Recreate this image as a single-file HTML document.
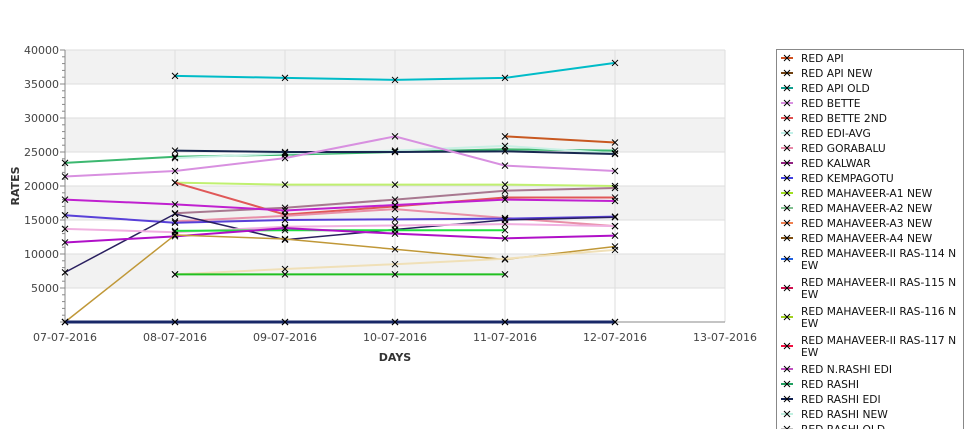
<!DOCTYPE html>
<html><head><meta charset="utf-8"><style>
body{margin:0;width:975px;height:429px;overflow:hidden;background:#fff;font-family:"DejaVu Sans","Liberation Sans",sans-serif;}
svg text{font-family:"DejaVu Sans","Liberation Sans",sans-serif;}
</style></head><body>
<svg id="chart" width="975" height="429" xmlns="http://www.w3.org/2000/svg"></svg>
<script>
const categories=["07-07-2016","08-07-2016","09-07-2016","10-07-2016","11-07-2016","12-07-2016","13-07-2016"];
const yTicks=[5000,10000,15000,20000,25000,30000,35000,40000];
const seriesNames=["RED API","RED API NEW","RED API OLD","RED BETTE","RED BETTE 2ND","RED EDI-AVG","RED GORABALU","RED KALWAR","RED KEMPAGOTU","RED MAHAVEER-A1 NEW","RED MAHAVEER-A2 NEW","RED MAHAVEER-A3 NEW","RED MAHAVEER-A4 NEW","RED MAHAVEER-II RAS-114 NEW","RED MAHAVEER-II RAS-115 NEW","RED MAHAVEER-II RAS-116 NEW","RED MAHAVEER-II RAS-117 NEW","RED N.RASHI EDI","RED RASHI","RED RASHI EDI","RED RASHI NEW","RED RASHI OLD"];
const legendColors=["#d05020","#704010","#10a090","#d890e0","#e05050","#c0f0e8","#e888a8","#902080","#4040e0","#a0e020","#80c090","#f08050","#805010","#2060e0","#d01050","#a0d020","#f01040","#c050c0","#20a060","#102050","#c0f0e0","#c0c0c0"];
const s_cyan=[null,36200,35900,35600,35900,38100];
const s_api=[null,null,null,null,27300,26400];
const s_rashi=[23400,24300,24600,25000,25400,25200];
const s_rashiNew=[null,24100,24800,25200,25900,24800];
const s_rashiEdi=[null,25200,25000,25000,25100,24700];
const s_bette=[21400,22200,24100,27300,23000,22200];
const s_a1=[null,20500,20200,20200,20200,20000];
const s_bette2=[null,20500,15800,17000,18300,18300];
const s_kalwar=[null,16000,16800,18000,19300,19700];
const s_magenta=[18000,17300,16400,17200,18000,17800];
const s_gorabalu=[null,14800,15600,16600,15300,14100];
const s_kempagotu=[15700,14600,15000,15100,15200,15500];
const s_darkPurple=[7300,15900,12100,13600,15000,15400];
const s_lightPink=[13700,13200,14000,14200,14400,14100];
const s_brightGreen=[null,13400,13500,13500,13500,null];
const s_purple=[11700,12600,13800,13000,12300,12700];
const s_gold=[0,12800,12200,10700,9200,11100];
const s_beige=[null,7000,7800,8500,9300,10600];
const s_green=[null,7000,7000,7000,7000,null];
const s_zeroRed=[0,0,0,0,0,0];
const s_zeroNavy=[0,0,0,0,0,0];
const plotSeries=[
 ["cyan",s_cyan,"#00bcc8",2],["api",s_api,"#c85820",2],["rashi",s_rashi,"#3cb870",2],["rashi-new",s_rashiNew,"#c8f0e4",2],
 ["rashi-edi",s_rashiEdi,"#182850",2],["bette",s_bette,"#d890e0",2],["a1",s_a1,"#c0f070",2],["bette-2nd",s_bette2,"#e05858",2],
 ["kalwar",s_kalwar,"#a87890",2],["magenta",s_magenta,"#c020d0",2],["gorabalu",s_gorabalu,"#e890a8",2],["kempagotu",s_kempagotu,"#5840d8",2],
 ["dark-purple",s_darkPurple,"#2a2060",1.5],["light-pink",s_lightPink,"#f0b0e0",2],["bright-green",s_brightGreen,"#20e040",2],
 ["purple",s_purple,"#b010c8",2],["gold",s_gold,"#c09838",1.5],["beige",s_beige,"#f0e0b8",2],["green",s_green,"#20c020",2],
 ["zero-red",s_zeroRed,"#e02050",2],["zero-navy",s_zeroNavy,"#182868",3]
];
const NS="http://www.w3.org/2000/svg";
const svg=document.getElementById("chart");
const X0=65,DX=110,Y0=322,YTOP=50,YMAX=40000;
function xs(i){return X0+i*DX;}
function ys(v){return Y0-(v/YMAX)*(Y0-YTOP);}
function mk(tag,attrs,parent){const e=document.createElementNS(NS,tag);for(const k in attrs)e.setAttribute(k,attrs[k]);(parent||svg).appendChild(e);return e;}
for(let k=0;k<4;k++){
 const b=mk("rect",{x:X0,y:ys(40000-k*10000),width:xs(6)-X0,height:ys(35000)-ys(40000),fill:"#f2f2f2"});
 
 
}
yTicks.forEach(v=>{
 const l=mk("line",{x1:X0,x2:xs(6),y1:ys(v),y2:ys(v),stroke:"#dedede","stroke-width":1});
 
 
 const t=mk("text",{x:X0-6,y:ys(v)+4,"text-anchor":"end","font-size":"11",fill:"#444"});
 t.textContent=v;
 
 
});
for(let v=0;v<=YMAX;v+=1000){
 const m=mk("line",{x1:X0-(v%5000===0?5:3),x2:X0,y1:ys(v),y2:ys(v),stroke:"#888"});
 
 
}
categories.forEach((c,i)=>{
 const l=mk("line",{x1:xs(i),x2:xs(i),y1:YTOP,y2:Y0,stroke:"#dedede"});
 
 
 const t=mk("text",{x:xs(i),y:341,"text-anchor":"middle","font-size":"11",fill:"#444"});
 t.textContent=c;
 
 
});
const ax=mk("line",{x1:X0,x2:X0,y1:YTOP,y2:Y0,stroke:"#888"});


const axx=mk("line",{x1:X0,x2:xs(6),y1:Y0,y2:Y0,stroke:"#888"});


const yt=mk("text",{x:19,y:186,"text-anchor":"middle","font-size":"11","font-weight":"bold",fill:"#333",transform:"rotate(-90 19 186)"});
yt.textContent="RATES";


const xt=mk("text",{x:395,y:361,"text-anchor":"middle","font-size":"11","font-weight":"bold",fill:"#333"});
xt.textContent="DAYS";


plotSeries.forEach(([name,vals,col,w])=>{
 let d="";let pen=false;
 vals.forEach((v,i)=>{if(v===null){pen=false;return;}d+=(pen?"L":"M")+xs(i)+" "+ys(v)+" ";pen=true;});
 const p=mk("path",{d:d,fill:"none",stroke:col,"stroke-width":w});
 
 
 vals.forEach((v,i)=>{if(v===null)return;
  const g=mk("path",{d:`M${xs(i)-3} ${ys(v)-3}L${xs(i)+3} ${ys(v)+3}M${xs(i)-3} ${ys(v)+3}L${xs(i)+3} ${ys(v)-3}`,stroke:"#000","stroke-width":1});
  
  
 });
});
const lg=mk("rect",{x:776.5,y:49.5,width:187,height:400,fill:"#fff",stroke:"#888"});


let ly=58;
seriesNames.forEach((n,i)=>{
 const two=n.length>26;
 const lines=two?[n.slice(0,25),n.slice(25)]:[n];
 const cy=two?ly+6:ly;
 const ml=mk("line",{x1:781,x2:793,y1:cy,y2:cy,stroke:legendColors[i],"stroke-width":2});
 
 
 const mx=mk("path",{d:`M784 ${cy-3}L790 ${cy+3}M784 ${cy+3}L790 ${cy-3}`,stroke:"#000"});
 
 
 lines.forEach((s,j)=>{
  const t=mk("text",{x:801,y:ly+4+j*12,"font-size":"10.7",fill:"#111"});
  t.textContent=s;
  
  
 });
 ly+=two?29:15;
});
</script>
</body></html>
